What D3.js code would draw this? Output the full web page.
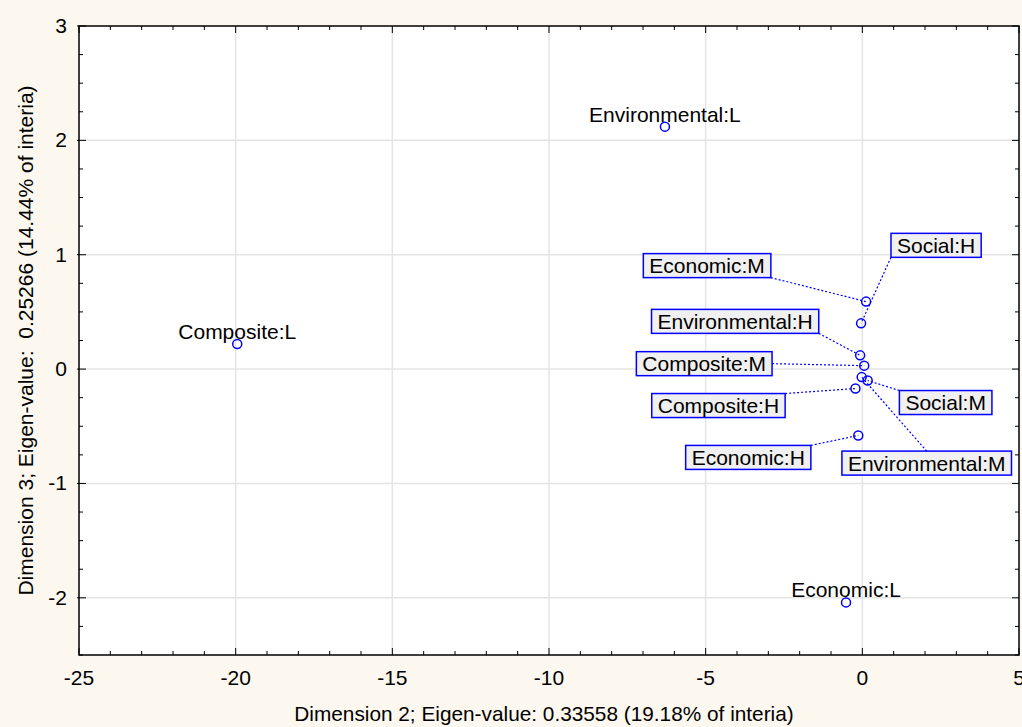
<!DOCTYPE html>
<html>
<head>
<meta charset="utf-8">
<script src="https://cdn.jsdelivr.net/npm/d3@7"></script>
<style>
  body { margin: 0; background: #fcf8ef; }
  text { font-family: "Liberation Sans", Arial, sans-serif; }
</style>
</head>
<body>
<div id="chart"></div>
<script>
// Category labels and their coordinates (dimension 2 vs dimension 3)
const categories = ["Composite:L", "Environmental:L", "Economic:L", "Economic:M", "Social:H",
    "Environmental:H", "Composite:M", "Environmental:M", "Social:M", "Composite:H", "Economic:H"];
const dim2 = [-19.95, -6.30, -0.52, 0.12, -0.04, -0.07, 0.06, -0.02, 0.17, -0.22, -0.13];
const dim3 = [0.22, 2.12, -2.04, 0.59, 0.40, 0.12, 0.03, -0.07, -0.10, -0.17, -0.58];

const xTicks = [-25, -20, -15, -10, -5, 0, 5];
const yTicks = [-2, -1, 0, 1, 2, 3];

// label placement (px offsets of box centre from the point, leader attach fraction)
const labelLayout = [
    { boxed: false }, { boxed: false }, { boxed: false },
    { boxed: true, dx: -159, dy: -36, ax: 1, ay: 1 },
    { boxed: true, dx: 75, dy: -78, ax: 0, ay: 1 },
    { boxed: true, dx: -125, dy: -34, ax: 1, ay: 1 },
    { boxed: true, dx: -160, dy: -2, ax: 1, ay: 0.5 },
    { boxed: true, dx: 65, dy: 86, ax: 0.5, ay: 0 },
    { boxed: true, dx: 78, dy: 22, ax: 0, ay: 0 },
    { boxed: true, dx: -137, dy: 17, ax: 1, ay: 0 },
    { boxed: true, dx: -110, dy: 22, ax: 1, ay: 0 }
];

const width = 1022;
const height = 727;
const margin = { left: 79, top: 26, right: 3, bottom: 72 };
const fs = 21;

const svg = d3.select("#chart")
    .append("svg")
    .attr("width", width)
    .attr("height", height);

svg.append("rect")
    .attr("width", width).attr("height", height)
    .attr("fill", "#fcf8ef");

const x = d3.scaleLinear().domain([-25, 5]).range([margin.left, width - margin.right]);
const y = d3.scaleLinear().domain([-2.5, 3]).range([height - margin.bottom, margin.top]);

const x0 = x.range()[0], x1 = x.range()[1];
const y0 = y.range()[1], y1 = y.range()[0];

// plot area
svg.append("rect")
    .attr("x", x0).attr("y", y0)
    .attr("width", x1 - x0).attr("height", y1 - y0)
    .attr("fill", "#fff");

// grid
const grid = svg.append("g").attr("stroke", "#e4e4e4").attr("stroke-width", 1.5);
grid.selectAll(".gx")
    .data(xTicks.filter(d => d > -25 && d < 5))
    .enter().append("line")
    .attr("x1", d => x(d)).attr("x2", d => x(d))
    .attr("y1", y0).attr("y2", y1);
grid.selectAll(".gy")
    .data(yTicks.filter(d => d > -2.5 && d < 3))
    .enter().append("line")
    .attr("y1", d => y(d)).attr("y2", d => y(d))
    .attr("x1", x0).attr("x2", x1);

// ticks, inside on all four sides
const ticks = svg.append("g").attr("stroke", "#000").attr("stroke-width", 1);
const xMinor = d3.range(-25, 5.01, 1);
const yMinor = d3.range(-2.5, 3.01, 0.25);
const isMajorX = v => Math.abs(v % 5) < 1e-6;
const isMajorY = v => Math.abs(v - Math.round(v)) < 1e-6;

ticks.selectAll(".tb").data(xMinor).enter().append("line")
    .attr("x1", d => x(d)).attr("x2", d => x(d))
    .attr("y1", y1).attr("y2", d => y1 - (isMajorX(d) ? 7 : 4));
ticks.selectAll(".tt").data(xMinor).enter().append("line")
    .attr("x1", d => x(d)).attr("x2", d => x(d))
    .attr("y1", y0).attr("y2", d => y0 + (isMajorX(d) ? 7 : 4));
ticks.selectAll(".tl").data(yMinor).enter().append("line")
    .attr("y1", d => y(d)).attr("y2", d => y(d))
    .attr("x1", d => x0 - (isMajorY(d) ? 2 : 0)).attr("x2", d => x0 + (isMajorY(d) ? 7 : 4));
ticks.selectAll(".tr").data(yMinor).enter().append("line")
    .attr("y1", d => y(d)).attr("y2", d => y(d))
    .attr("x1", x1).attr("x2", d => x1 - (isMajorY(d) ? 7 : 4));

// frame
svg.append("rect")
    .attr("x", x0).attr("y", y0)
    .attr("width", x1 - x0).attr("height", y1 - y0)
    .attr("fill", "none")
    .attr("stroke", "#000")
    .attr("stroke-width", 1.5);

// tick labels
svg.append("g").selectAll("text")
    .data(xTicks)
    .enter().append("text")
    .attr("x", d => x(d))
    .attr("y", y1 + 30)
    .attr("text-anchor", "middle")
    .attr("font-size", fs)
    .text(d => d);

svg.append("g").selectAll("text")
    .data(yTicks)
    .enter().append("text")
    .attr("x", x0 - 12)
    .attr("y", d => y(d) + 7)
    .attr("text-anchor", "end")
    .attr("font-size", fs)
    .text(d => d);

// axis titles
svg.append("text")
    .attr("x", 544)
    .attr("y", 721)
    .attr("text-anchor", "middle")
    .attr("font-size", 20.8)
    .text("Dimension 2; Eigen-value: 0.33558 (19.18% of interia)");

svg.append("text")
    .attr("transform", `translate(33,${(y0 + y1) / 2}) rotate(-90)`)
    .attr("text-anchor", "middle")
    .attr("font-size", fs)
    .attr("xml:space", "preserve")
    .style("white-space", "pre")
    .text("Dimension 3; Eigen-value:  0.25266 (14.44% of interia)");

// points + labels
const pts = categories.map((c, i) => ({ name: c, x: dim2[i], y: dim3[i], lay: labelLayout[i] }));

const labels = svg.append("g");
const leaders = svg.append("g")
    .attr("stroke", "#0000ff")
    .attr("stroke-width", 1.2)
    .attr("stroke-dasharray", "2,2")
    .attr("fill", "none");

pts.forEach(p => {
    const px = x(p.x), py = y(p.y);
    if (!p.lay.boxed) {
        labels.append("text")
            .attr("x", px)
            .attr("y", py - 5)
            .attr("text-anchor", "middle")
            .attr("font-size", fs)
            .text(p.name);
        return;
    }
    const cx = px + p.lay.dx, cy = py + p.lay.dy;
    const g = labels.append("g");
    const box = g.append("rect");
    const t = g.append("text")
        .attr("x", cx)
        .attr("y", cy + 7.5)
        .attr("text-anchor", "middle")
        .attr("font-size", fs)
        .text(p.name);
    const w = t.node().getComputedTextLength() + 12;
    const h = 24;
    box.attr("x", cx - w / 2).attr("y", cy - h / 2)
        .attr("width", w).attr("height", h)
        .attr("fill", "#f0f0f0")
        .attr("stroke", "#0000ff")
        .attr("stroke-width", 1.5);
    leaders.append("line")
        .attr("x1", cx - w / 2 + p.lay.ax * w)
        .attr("y1", cy - h / 2 + p.lay.ay * h)
        .attr("x2", px)
        .attr("y2", py);
});

svg.append("g").selectAll("circle")
    .data(pts)
    .enter().append("circle")
    .attr("cx", d => x(d.x))
    .attr("cy", d => y(d.y))
    .attr("r", 4.5)
    .attr("fill", "none")
    .attr("stroke", "#0000ff")
    .attr("stroke-width", 1.5);
</script>
</body>
</html>
